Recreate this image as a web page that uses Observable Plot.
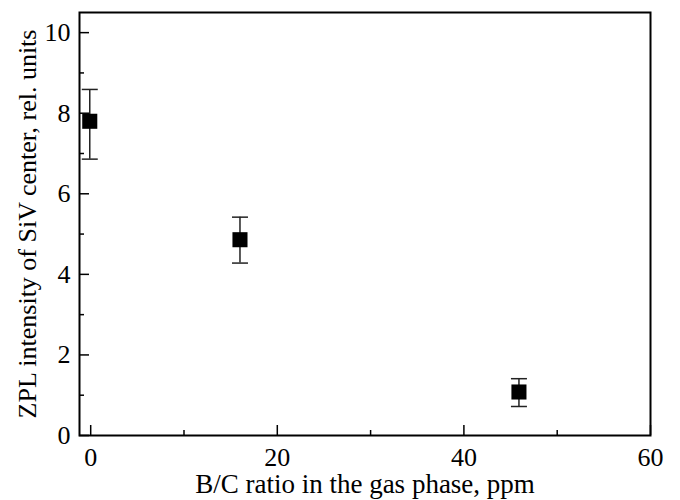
<!DOCTYPE html>
<html>
<head>
<meta charset="utf-8">
<script src="https://cdn.jsdelivr.net/npm/d3@7"></script>
<script src="https://cdn.jsdelivr.net/npm/@observablehq/plot@0.6"></script>
<style>
  html, body { margin: 0; padding: 0; background: #fff; }
  #chart svg { display: block; }
</style>
</head>
<body>
<div id="chart"></div>
<script>
// Data
const boronRatio = [-0.1, 16, 45.9];          // B/C ratio, ppm
const zplIntensity = [7.8, 4.86, 1.08];       // ZPL intensity, rel. units
const errLow = [6.86, 4.28, 0.72];
const errHigh = [8.59, 5.42, 1.41];

const xMajorTicks = [0, 20, 40, 60];
const xMinorTicks = [10, 30, 50];
const yMajorTicks = [0, 2, 4, 6, 8, 10];
const yMinorTicks = [1, 3, 5, 7, 9];

const xLabel = "B/C ratio in the gas phase, ppm";
const yLabel = "ZPL intensity of SiV center, rel. units";

const data = boronRatio.map((x, i) => ({x, y: zplIntensity[i], lo: errLow[i], hi: errHigh[i]}));

const capSymbol = {
  draw(context, size) {
    context.moveTo(-8, 0);
    context.lineTo(8, 0);
  }
};

const font = "Liberation Serif, Times New Roman, serif";
const blank = () => "";

const chart = Plot.plot({
  width: 680,
  height: 500,
  marginLeft: 79,
  marginRight: 30,
  marginTop: 12,
  marginBottom: 65,
  style: {fontFamily: font, fontSize: "24px", color: "#000", background: "#fff"},
  x: {domain: [-1.2, 60]},
  y: {domain: [0, 10.5]},
  marks: [
    Plot.frame({stroke: "#000", strokeWidth: 2}),
    Plot.axisX(xMajorTicks, {anchor: "bottom", tickSize: -10, tickFormat: blank, label: null, strokeWidth: 1.5}),
    Plot.axisX(xMinorTicks, {anchor: "bottom", tickSize: -5, tickFormat: blank, label: null, strokeWidth: 1.5}),
    Plot.axisY(yMajorTicks, {anchor: "left", tickSize: -10, tickFormat: blank, label: null, strokeWidth: 1.5}),
    Plot.axisY(yMinorTicks, {anchor: "left", tickSize: -5, tickFormat: blank, label: null, strokeWidth: 1.5}),
    Plot.text(xMajorTicks, {x: d => d, text: d => String(d), frameAnchor: "bottom", textAnchor: "middle", lineAnchor: "top", dy: 12, fontSize: 26}),
    Plot.text(yMajorTicks, {y: d => d, text: d => String(d), frameAnchor: "left", textAnchor: "end", lineAnchor: "middle", dx: -9, fontSize: 26}),
    Plot.text([xLabel], {text: d => d, frameAnchor: "bottom", textAnchor: "middle", dy: 49, fontSize: 27, lineAnchor: "middle"}),
    Plot.text([yLabel], {text: d => d, frameAnchor: "left", textAnchor: "middle", dx: -52, rotate: -90, fontSize: 26, lineAnchor: "middle"}),
    Plot.ruleX(data, {x: "x", y1: "lo", y2: "hi", stroke: "#222", strokeWidth: 1.5}),
    Plot.dot(data, {x: "x", y: "lo", symbol: capSymbol, stroke: "#222", fill: "none", strokeWidth: 1.5}),
    Plot.dot(data, {x: "x", y: "hi", symbol: capSymbol, stroke: "#222", fill: "none", strokeWidth: 1.5}),
    Plot.dot(data, {x: "x", y: "y", symbol: "square", r: 8.5, fill: "#000", stroke: "none"})
  ]
});

document.getElementById("chart").appendChild(chart);
</script>
</body>
</html>
